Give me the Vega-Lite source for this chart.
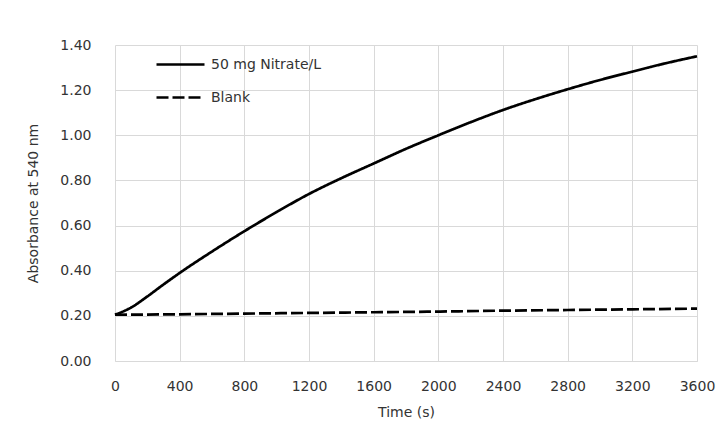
{
  "$schema": "https://vega.github.io/schema/vega-lite/v6.json",
  "width": 582,
  "height": 316,
  "autosize": "none",
  "padding": {"left": 115, "top": 45, "right": 24, "bottom": 82},
  "background": "white",
  "config": {
    "view": {"stroke": null},
    "font": "DejaVu Sans",
    "axis": {"labelFont": "DejaVu Sans", "titleFont": "DejaVu Sans", "labelColor": "#333333", "titleColor": "#333333", "titleFontWeight": "normal", "labelFontSize": 14, "titleFontSize": 14, "gridColor": "#d9d9d9", "gridWidth": 1, "ticks": false}
  },
  "data": {
    "values": [
      {"series": "50 mg Nitrate/L", "t": 0, "v": 0.205},
      {"series": "50 mg Nitrate/L", "t": 100, "v": 0.237},
      {"series": "50 mg Nitrate/L", "t": 200, "v": 0.286},
      {"series": "50 mg Nitrate/L", "t": 300, "v": 0.339},
      {"series": "50 mg Nitrate/L", "t": 400, "v": 0.39},
      {"series": "50 mg Nitrate/L", "t": 600, "v": 0.485},
      {"series": "50 mg Nitrate/L", "t": 800, "v": 0.575},
      {"series": "50 mg Nitrate/L", "t": 1000, "v": 0.66},
      {"series": "50 mg Nitrate/L", "t": 1200, "v": 0.74},
      {"series": "50 mg Nitrate/L", "t": 1400, "v": 0.81},
      {"series": "50 mg Nitrate/L", "t": 1600, "v": 0.875},
      {"series": "50 mg Nitrate/L", "t": 1800, "v": 0.94},
      {"series": "50 mg Nitrate/L", "t": 2000, "v": 1.0},
      {"series": "50 mg Nitrate/L", "t": 2200, "v": 1.058},
      {"series": "50 mg Nitrate/L", "t": 2400, "v": 1.112},
      {"series": "50 mg Nitrate/L", "t": 2600, "v": 1.16},
      {"series": "50 mg Nitrate/L", "t": 2800, "v": 1.204},
      {"series": "50 mg Nitrate/L", "t": 3000, "v": 1.245},
      {"series": "50 mg Nitrate/L", "t": 3200, "v": 1.282},
      {"series": "50 mg Nitrate/L", "t": 3400, "v": 1.318},
      {"series": "50 mg Nitrate/L", "t": 3600, "v": 1.35},
      {"series": "Blank", "t": 0, "v": 0.205},
      {"series": "Blank", "t": 400, "v": 0.207},
      {"series": "Blank", "t": 800, "v": 0.21},
      {"series": "Blank", "t": 1200, "v": 0.213},
      {"series": "Blank", "t": 1600, "v": 0.216},
      {"series": "Blank", "t": 2000, "v": 0.219},
      {"series": "Blank", "t": 2400, "v": 0.223},
      {"series": "Blank", "t": 2800, "v": 0.226},
      {"series": "Blank", "t": 3200, "v": 0.229},
      {"series": "Blank", "t": 3600, "v": 0.232}
    ]
  },
  "mark": {"type": "line", "interpolate": "monotone", "strokeWidth": 2.7, "color": "black", "clip": false},
  "encoding": {
    "x": {"field": "t", "type": "quantitative", "title": "Time (s)",
      "scale": {"domain": [0, 3600], "nice": false, "zero": false},
      "axis": {"values": [0, 400, 800, 1200, 1600, 2000, 2400, 2800, 3200, 3600], "format": "d", "labelPadding": 18, "titlePadding": 12, "domainColor": "#d9d9d9", "labelFlush": false}},
    "y": {"field": "v", "type": "quantitative", "title": "Absorbance at 540 nm",
      "scale": {"domain": [0, 1.4], "nice": false},
      "axis": {"values": [0, 0.2, 0.4, 0.6, 0.8, 1.0, 1.2, 1.4], "format": ".2f", "labelPadding": 24, "titlePadding": 19, "domain": false}},
    "strokeDash": {"field": "series", "type": "nominal",
      "scale": {"domain": ["50 mg Nitrate/L", "Blank"], "range": [[1, 0], [12, 4]]},
      "legend": {"title": null, "orient": "none", "legendX": 40, "legendY": -6, "symbolType": "stroke", "symbolSize": 2304, "symbolStrokeWidth": 2.5, "symbolStrokeColor": "black", "rowPadding": -21, "labelFontSize": 14, "labelFont": "DejaVu Sans", "labelColor": "#333333", "labelOffset": 5}}
  }
}
